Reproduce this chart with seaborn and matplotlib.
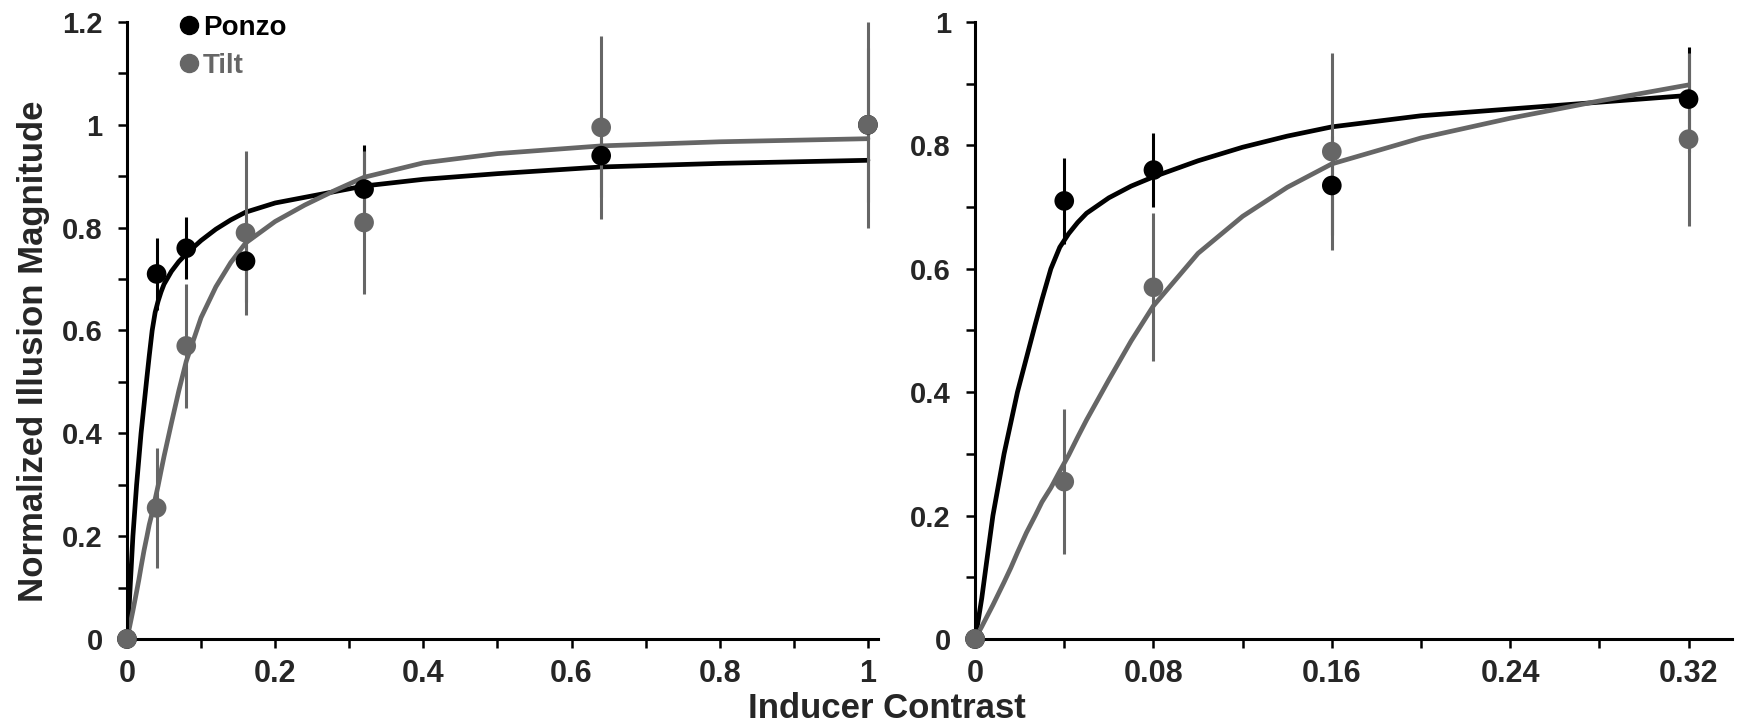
import matplotlib
matplotlib.use("Agg")
import matplotlib.pyplot as plt
from matplotlib.lines import Line2D
from matplotlib.ticker import MultipleLocator, FixedLocator
import pandas as pd
import seaborn as sns

# datos medidos
contrast = [0, 0.04, 0.08, 0.16, 0.32, 0.64, 1.0]
ponzo = [0, 0.71, 0.76, 0.735, 0.875, 0.94, 1.0]
ponzo_err = [0, 0.07, 0.06, 0.08, 0.085, 0.08, 0.15]
tilt = [0, 0.255, 0.57, 0.79, 0.81, 0.995, 1.0]
tilt_err = [0, 0.117, 0.12, 0.16, 0.14, 0.178, 0.2]

# curvas de ajuste
curve_x = [0, 0.0015, 0.003, 0.005, 0.008, 0.013, 0.016, 0.019, 0.023, 0.027, 0.03,
           0.034, 0.038, 0.042, 0.046, 0.05, 0.06, 0.07, 0.08, 0.1, 0.12, 0.14, 0.16,
           0.2, 0.24, 0.28, 0.32, 0.4, 0.5, 0.64, 0.8, 1.0]
ponzo_fit = [0, 0.032, 0.066, 0.12, 0.2, 0.30, 0.35, 0.4, 0.455, 0.51, 0.55,
             0.6, 0.635, 0.657, 0.675, 0.69, 0.715, 0.734, 0.749, 0.775, 0.797, 0.815, 0.830,
             0.848, 0.859, 0.870, 0.881, 0.894, 0.905, 0.918, 0.925, 0.931]
tilt_fit = [0, 0.01, 0.02, 0.034, 0.055, 0.092, 0.115, 0.14, 0.172, 0.2, 0.222,
            0.245, 0.272, 0.298, 0.327, 0.355, 0.42, 0.483, 0.54, 0.625, 0.685, 0.732, 0.77,
            0.812, 0.844, 0.872, 0.898, 0.926, 0.944, 0.959, 0.967, 0.973]

series = ["Ponzo", "Tilt"]
colores = {"Ponzo": "#000000", "Tilt": "#666666"}

left_xticks = [0, 0.2, 0.4, 0.6, 0.8, 1.0]
left_xlabels = ["0", "0.2", "0.4", "0.6", "0.8", "1"]
left_yticks = [0, 0.2, 0.4, 0.6, 0.8, 1.0, 1.2]
left_ylabels = ["0", "0.2", "0.4", "0.6", "0.8", "1", "1.2"]
right_xticks = [0, 0.08, 0.16, 0.24, 0.32]
right_xlabels = ["0", "0.08", "0.16", "0.24", "0.32"]
right_yticks = [0, 0.2, 0.4, 0.6, 0.8, 1.0]
right_ylabels = ["0", "0.2", "0.4", "0.6", "0.8", "1"]

puntos = pd.DataFrame({
    "x": contrast * 2,
    "y": ponzo + tilt,
    "err": ponzo_err + tilt_err,
    "serie": ["Ponzo"] * len(contrast) + ["Tilt"] * len(contrast),
})
curvas = pd.DataFrame({
    "x": curve_x * 2,
    "y": ponzo_fit + tilt_fit,
    "serie": ["Ponzo"] * len(curve_x) + ["Tilt"] * len(curve_x),
})

sns.set_style("ticks")
plt.rcParams["font.family"] = ["Liberation Sans", "DejaVu Sans"]

fig = plt.figure(figsize=(17.49, 7.28), dpi=100)
ax1 = fig.add_axes([0.0726, 0.1223, 0.4294, 0.8475])
ax2 = fig.add_axes([0.5575, 0.1223, 0.4328, 0.8475])


def dibujar_panel(ax, xmax, xlim, ylim, xt, xl, yt, yl, xminor, yminor):
    c = curvas[curvas["x"] <= xmax + 1e-9]
    sns.lineplot(data=c, x="x", y="y", hue="serie", palette=colores, hue_order=series,
                 estimator=None, linewidth=3.4, legend=False, ax=ax, zorder=2)
    p = puntos[puntos["x"] <= xmax + 1e-9]
    for s in series:
        d = p[p["serie"] == s]
        d = d[d["err"] > 0]
        ax.errorbar(d["x"], d["y"], yerr=d["err"], fmt="none", ecolor=colores[s],
                    elinewidth=2.2, capsize=0, zorder=3, clip_on=False)
    sns.scatterplot(data=p, x="x", y="y", hue="serie", palette=colores, hue_order=series,
                    s=200, linewidth=0, legend=False, ax=ax, zorder=5, clip_on=False)
    ax.set_xlim(*xlim)
    ax.set_ylim(*ylim)
    ax.xaxis.set_major_locator(FixedLocator(xt))
    ax.set_xticklabels(xl, fontsize=22, fontweight="bold")
    ax.yaxis.set_major_locator(FixedLocator(yt))
    ax.set_yticklabels(yl, fontsize=21, fontweight="bold")
    ax.xaxis.set_minor_locator(MultipleLocator(xminor))
    ax.yaxis.set_minor_locator(MultipleLocator(yminor))
    ax.tick_params(which="both", direction="out", length=6.5, width=1.8, color="black")
    ax.tick_params(axis="x", pad=8)
    ax.tick_params(axis="y", pad=11)
    ax.set_xlabel("")
    ax.set_ylabel("")
    sns.despine(ax=ax)
    for sp in ["left", "bottom"]:
        ax.spines[sp].set_linewidth(2.2)
        ax.spines[sp].set_color("black")


dibujar_panel(ax1, 1.0, (0, 1.0136), (0, 1.2), left_xticks, left_xlabels,
              left_yticks, left_ylabels, 0.1, 0.1)
dibujar_panel(ax2, 0.32, (0, 0.3395), (0, 1.0), right_xticks, right_xlabels,
              right_yticks, right_ylabels, 0.04, 0.1)

handles = [Line2D([], [], ls="", marker="o", markersize=13, color=colores[s]) for s in series]
ax1.legend(handles, series, loc="upper left", bbox_to_anchor=(0.055, 1.03), frameon=False,
           handlelength=0.7, handletextpad=0.15, labelspacing=0.45, borderaxespad=0,
           prop={"weight": "bold", "size": 20}, labelcolor=[colores[s] for s in series])

fig.text(0.019, 0.518, "Normalized Illusion Magnitude", rotation=90, ha="center", va="center",
         fontsize=25, fontweight="bold")
fig.text(0.507, 0.027, "Inducer Contrast", ha="center", va="center",
         fontsize=25, fontweight="bold")

fig.savefig("out.png", dpi=100)
